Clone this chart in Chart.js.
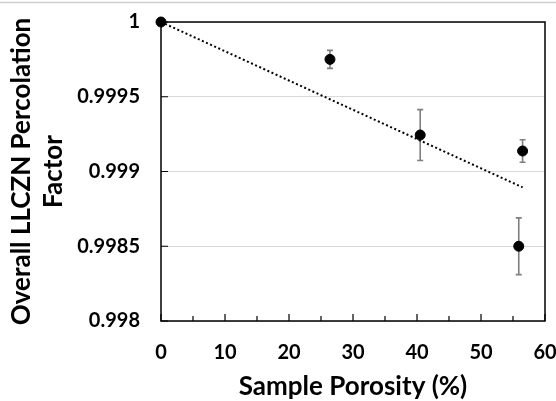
<!DOCTYPE html>
<html>
<head>
<meta charset="utf-8">
<script src="https://cdn.jsdelivr.net/npm/chart.js@4"></script>
<style>
  html, body { margin: 0; padding: 0; background: #fff; }
  #wrap { width: 556px; height: 401px; position: relative; }
</style>
</head>
<body>
<div id="wrap"><canvas id="c" width="556" height="401"></canvas></div>
<script>
// ---- data ----
const porosity = [0, 26.4, 40.5, 56.5, 55.9];
const factor = [1.0, 0.99975, 0.999244, 0.999137, 0.9985];
const errBar = [0, 0.00006, 0.00017, 0.000075, 0.00019];
const trendX = [0, 56.5];
const trendY = [1.0, 0.998894];
const xTickValues = [0, 5, 10, 15, 20, 25, 30, 35, 40, 45, 50, 55, 60];
const yTickValues = [0.998, 0.9985, 0.999, 0.9995, 1];

const FONT = 'Lato, "Open Sans", sans-serif';

const framePlugin = {
  id: 'frame',
  beforeDraw(chart) {
    const ctx = chart.ctx;
    ctx.save();
    ctx.strokeStyle = '#d0d0d0';
    ctx.lineWidth = 1.5;
    ctx.beginPath();
    ctx.moveTo(0, 2.5); ctx.lineTo(chart.width, 2.5);
    ctx.stroke();
    ctx.restore();
  },
  beforeDatasetsDraw(chart) {
    const ctx = chart.ctx, a = chart.chartArea;
    const xs = chart.scales.x, ys = chart.scales.y;
    ctx.save();
    ctx.strokeStyle = '#000';
    ctx.lineWidth = 1.5;
    ctx.strokeRect(a.left, a.top, a.right - a.left, a.bottom - a.top);
    ctx.lineWidth = 1.2;
    ctx.beginPath();
    xTickValues.forEach(v => {
      const px = xs.getPixelForValue(v);
      const len = (v % 10 === 0) ? 7 : 5;
      ctx.moveTo(px, a.bottom); ctx.lineTo(px, a.bottom - len);
    });
    yTickValues.forEach(v => {
      const py = ys.getPixelForValue(v);
      ctx.moveTo(a.left, py); ctx.lineTo(a.left + 7, py);
    });
    ctx.stroke();
    // error bars
    ctx.strokeStyle = '#7f7f7f';
    ctx.lineWidth = 1.6;
    ctx.beginPath();
    porosity.forEach((x, i) => {
      if (!errBar[i]) return;
      const px = xs.getPixelForValue(x);
      const pt = ys.getPixelForValue(factor[i] + errBar[i]);
      const pb = ys.getPixelForValue(factor[i] - errBar[i]);
      ctx.moveTo(px, pt); ctx.lineTo(px, pb);
      ctx.moveTo(px - 3, pt); ctx.lineTo(px + 3, pt);
      ctx.moveTo(px - 3, pb); ctx.lineTo(px + 3, pb);
    });
    ctx.stroke();
    ctx.restore();
  }
};

new Chart(document.getElementById('c'), {
  type: 'scatter',
  data: {
    datasets: [
      {
        label: 'data',
        data: porosity.map((x, i) => ({ x: x, y: factor[i] })),
        backgroundColor: '#000',
        borderColor: '#000',
        pointRadius: 5,
        pointHoverRadius: 5,
        clip: false,
        order: 0
      },
      {
        label: 'trend',
        type: 'line',
        data: trendX.map((x, i) => ({ x: x, y: trendY[i] })),
        borderColor: '#000',
        borderWidth: 2,
        borderDash: [2, 2.5],
        pointRadius: 0,
        fill: false,
        clip: false,
        order: 1
      }
    ]
  },
  options: {
    responsive: false,
    animation: false,
    layout: { padding: { top: 22, right: 11, left: 0, bottom: 0 } },
    plugins: { legend: { display: false }, tooltip: { enabled: false } },
    scales: {
      x: {
        type: 'linear',
        min: 0, max: 60,
        afterBuildTicks(scale) { scale.ticks = xTickValues.map(v => ({ value: v })); },
        grid: { display: false, drawTicks: false },
        border: { display: false },
        ticks: {
          padding: 20,
          color: '#000',
          font: { family: FONT, size: 20, weight: 'bold' },
          callback: v => (v % 10 === 0 ? String(v) : '')
        },
        title: {
          display: true,
          text: 'Sample Porosity (%)',
          color: '#000',
          font: { family: FONT, size: 26, weight: 'bold' },
          padding: { top: 0, bottom: -1 }
        },
        afterFit(scale) { scale.height = 80; scale.paddingLeft = 0; scale.paddingRight = 0; }
      },
      y: {
        type: 'linear',
        min: 0.998, max: 1,
        afterBuildTicks(scale) { scale.ticks = yTickValues.map(v => ({ value: v })); },
        grid: { color: '#d9d9d9', lineWidth: 1, drawTicks: false },
        border: { display: false },
        ticks: {
          padding: 21,
          color: '#000',
          font: { family: FONT, size: 20, weight: 'bold' },
          callback: v => String(+v.toFixed(4))
        },
        title: {
          display: true,
          text: ['Overall LLCZN Percolation', 'Factor'],
          color: '#000',
          font: { family: FONT, size: 26, weight: 'bold', lineHeight: 1.25 },
          padding: { top: 5, bottom: 0 }
        },
        afterFit(scale) { scale.width = 161; scale.paddingTop = 0; scale.paddingBottom = 0; }
      }
    }
  },
  plugins: [framePlugin]
});
</script>
</body>
</html>
